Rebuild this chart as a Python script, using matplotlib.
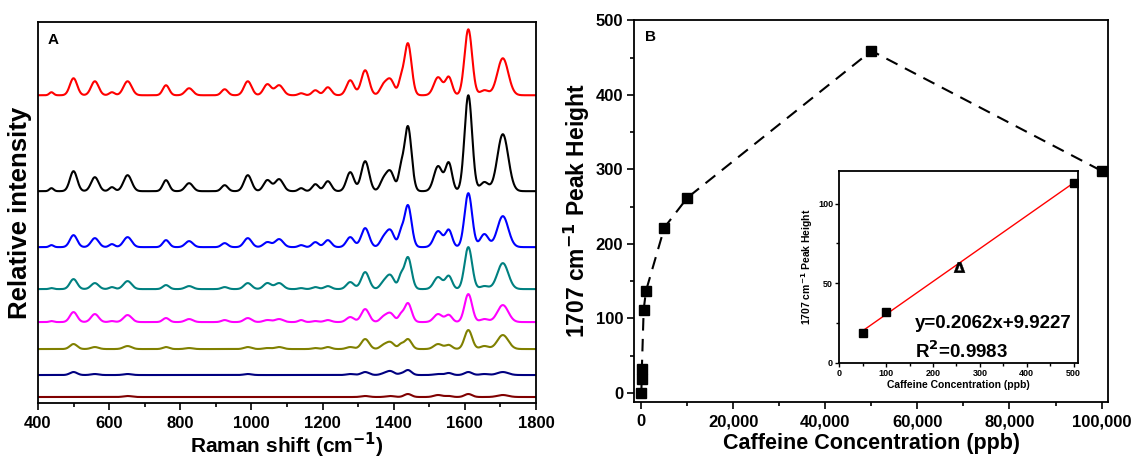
import numpy as np
import matplotlib
matplotlib.use("Agg")
import matplotlib.pyplot as plt
from matplotlib.ticker import MultipleLocator, FuncFormatter

plt.rcParams["font.family"] = ["Liberation Sans", "DejaVu Sans"]
plt.rcParams["font.weight"] = "bold"
plt.rcParams["mathtext.default"] = "bf"

# ---- panel A: SERS spectra described by peak tables ----
peak_pos = [438, 500, 560, 608, 652, 760, 825, 925, 990, 1045, 1078, 1140,
            1180, 1215, 1278, 1320, 1370, 1390, 1420, 1440, 1525, 1555,
            1610, 1655, 1707]
peak_fwhm = [14, 24, 25, 18, 27, 21, 25, 21, 25, 25, 27, 18,
             21, 23, 25, 26, 22, 27, 16, 24, 28, 22,
             25, 27, 36]

spec_colors = ["#ff0000", "#000000", "#0000ff", "#008080",
               "#ff00ff", "#808000", "#000080", "#800000"]
spec_offsets = [308, 212, 156, 114, 81, 54, 28, 6]
spec_heights = [
    [3, 17, 14, 3, 14, 10, 7, 6, 14, 11, 10, 2, 5, 8, 15, 25, 8, 16, 12, 52, 18, 18, 66, 5, 37],
    [3, 20, 14, 4, 16, 11, 8, 6, 16, 11, 12, 3, 7, 10, 19, 30, 9, 20, 18, 65, 25, 28, 96, 9, 57],
    [2, 12, 9, 3, 10, 7, 6, 4, 9, 5, 8, 2, 5, 7, 10, 19, 7, 17, 12, 42, 16, 17, 54, 13, 31],
    [1, 10, 6, 2, 8, 4, 3, 2, 6, 6, 6, 1, 2, 3, 7, 17, 5, 14, 11, 32, 12, 13, 42, 3, 26],
    [1, 10, 8, 1, 7, 4, 3, 2, 4, 2, 3, 2, 1, 2, 5, 13, 4, 9, 6, 19, 8, 7, 28, 3, 17],
    [0, 5, 2, 0, 3, 2, 1, 0, 2, 1, 2, 0, 1, 2, 2, 10, 3, 7, 4, 10, 5, 4, 19, 3, 14],
    [0, 3, 1, 0, 1, 0, 0, 0, 1, 0, 0, 0, 0, 0, 1, 3, 1, 4, 1, 5, 1, 2, 3, 1, 3],
    [0, 0, 0, 0, 1, 0, 0, 0, 0, 0, 0, 0, 0, 0, 0, 1, 0, 1, 0, 3, 2, 1, 3, 0, 2],
]

# ---- panel B: 1707 peak height vs concentration ----
conc = [0, 50, 100, 500, 1000, 5000, 10000, 50000, 100000]
height = [0, 19, 32, 112, 137, 222, 262, 459, 298]

# inset: linear range
lin_conc = [50, 100, 500]
lin_height = [19, 32, 113]
unknown_conc = [255]
unknown_height = [60]
slope, intercept = 0.2062, 9.9227


def build_spectrum(x, heights):
    y = np.zeros_like(x)
    for p, w, h in zip(peak_pos, peak_fwhm, heights):
        sigma = w / 2.355
        y += h * np.exp(-0.5 * ((x - p) / sigma) ** 2)
    return y


fig = plt.figure(figsize=(11.33, 4.59), dpi=100)
ax_a = fig.add_axes([0.0335, 0.122, 0.4395, 0.8294])
ax_b = fig.add_axes([0.560, 0.1242, 0.4179, 0.8333])
ax_in = fig.add_axes([0.7408, 0.2092, 0.2105, 0.4183])

for ax in (ax_a, ax_b, ax_in):
    for sp in ax.spines.values():
        sp.set_linewidth(1.3)

# panel A
shift = np.linspace(400, 1800, 1401)
for col, off, hts in zip(spec_colors, spec_offsets, spec_heights):
    ax_a.plot(shift, off + build_spectrum(shift, hts), color=col, lw=1.5)
ax_a.set_xlim(400, 1800)
ax_a.set_ylim(0, 381)
ax_a.set_yticks([])
ax_a.xaxis.set_major_locator(MultipleLocator(200))
ax_a.xaxis.set_minor_locator(MultipleLocator(100))
ax_a.tick_params(axis="x", which="major", direction="out", length=5, width=1.2,
                 labelsize=12, pad=4)
ax_a.tick_params(axis="x", which="minor", direction="out", length=3, width=1.2)
ax_a.set_xlabel("Raman shift (cm$^{-1}$)", fontsize=15, fontweight="bold", labelpad=0.5)
ax_a.set_ylabel("Relative intensity", fontsize=18.5, fontweight="bold", labelpad=4)
ax_a.text(0.02, 0.953, "A", transform=ax_a.transAxes, fontsize=11,
          fontweight="bold", va="center", ha="left")

# panel B
ax_b.plot(conc, height, color="black", lw=1.5, ls=(0, (6, 4)),
          marker="s", ms=7.5, mfc="black", mec="black")
ax_b.set_xlim(-1500, 101400)
ax_b.set_ylim(-12, 501)
ax_b.xaxis.set_major_locator(MultipleLocator(20000))
ax_b.xaxis.set_minor_locator(MultipleLocator(10000))
ax_b.yaxis.set_major_locator(MultipleLocator(100))
ax_b.yaxis.set_minor_locator(MultipleLocator(50))
ax_b.xaxis.set_major_formatter(FuncFormatter(lambda v, p: f"{int(v):,}"))
ax_b.tick_params(which="major", direction="out", length=5, width=1.2,
                 labelsize=12, pad=3)
ax_b.tick_params(axis="x", which="major", pad=4)
ax_b.tick_params(which="minor", direction="out", length=3, width=1.2)
ax_b.set_xlabel("Caffeine Concentration (ppb)", fontsize=15.5, fontweight="bold", labelpad=2.5)
ax_b.set_ylabel("1707 cm$^{-1}$ Peak Height", fontsize=16.5, fontweight="bold", labelpad=3)
ax_b.text(0.022, 0.954, "B", transform=ax_b.transAxes, fontsize=11,
          fontweight="bold", va="center", ha="left")

# inset
fit_x = np.array([lin_conc[0], lin_conc[-1]])
ax_in.plot(fit_x, slope * fit_x + intercept, color="red", lw=1.0)
ax_in.plot(lin_conc, lin_height, ls="none", marker="s", ms=5.5,
           mfc="black", mec="black")
ax_in.plot(unknown_conc, unknown_height, ls="none", marker=r"$\Delta$", ms=8,
           color="black", mew=0.3)
ax_in.set_xlim(0, 509)
ax_in.set_ylim(0, 120.5)
ax_in.xaxis.set_major_locator(MultipleLocator(100))
ax_in.xaxis.set_minor_locator(MultipleLocator(50))
ax_in.yaxis.set_major_locator(MultipleLocator(50))
ax_in.yaxis.set_minor_locator(MultipleLocator(25))
ax_in.tick_params(which="major", direction="out", length=3, width=1.0,
                  labelsize=6.5, pad=1.5)
ax_in.tick_params(which="minor", direction="out", length=2, width=1.0)
ax_in.set_xlabel("Caffeine Concentration (ppb)", fontsize=7.5, fontweight="bold", labelpad=1)
ax_in.set_ylabel("1707 cm$^{-1}$ Peak Height", fontsize=7.5, fontweight="bold", labelpad=2)
ax_in.text(0.317, 0.208, "y=0.2062x+9.9227", transform=ax_in.transAxes,
           fontsize=13.5, fontweight="bold", va="center", ha="left")
ax_in.text(0.317, 0.0625, "R$^2$=0.9983", transform=ax_in.transAxes,
           fontsize=13.5, fontweight="bold", va="center", ha="left")

fig.savefig("out.png", dpi=100)
